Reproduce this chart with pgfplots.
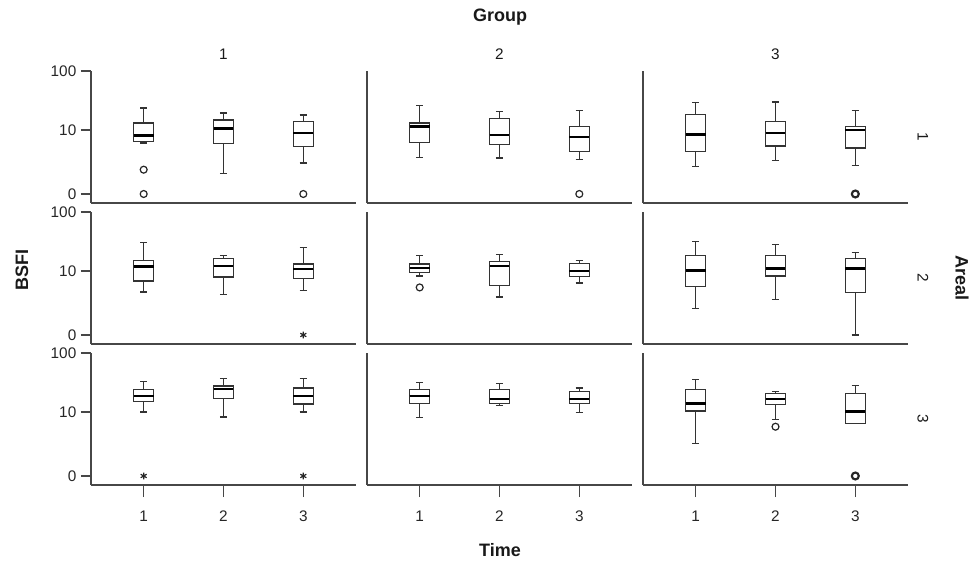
\documentclass[border=0pt]{standalone}
\usepackage{fontspec}
\setmainfont{Liberation Sans}
\usepackage{pgfplots}
\pgfplotsset{compat=1.18}
\usepgfplotslibrary{statistics}

\pgfplotsset{
  panel/.style={
    scale only axis, width=198.75pt, height=99pt,
    xmin=0.34, xmax=3.66, ymin=-0.147, ymax=2.0043,
    axis lines*=left,
    axis line style={-, line width=1.4pt, black!72},
    xtick=\empty, ytick=\empty,
    anchor=south west, clip=false,
    tick align=outside,
    tick style={line width=1.2pt, black!72},
    major tick length=7.5pt,
    ticklabel style={font=\fontsize{11.5}{13}\selectfont, text=black!85},
    /pgf/number format/assume math mode=true,
    boxplot/draw direction=y,
  },
  leftcol/.style={ytick={0,1.0414,2.0043}, yticklabels={0,10,100}},
  bottomrow/.style={xtick={1,2,3}, xticklabels={1,2,3},
    xtick style={/pgfplots/major tick length=9pt},
    xticklabel style={yshift=-8.5pt}},
  bx/.style={draw=black!80, fill=white, line width=0.95pt, solid, mark=none,
    boxplot/draw direction=y,
    boxplot/box extend=0.25, boxplot/whisker extend=0.09,
    boxplot/draw/median/.code={\draw[line width=1.8pt, black]
      (boxplot box cs:\pgfplotsboxplotvalue{median},0) --
      (boxplot box cs:\pgfplotsboxplotvalue{median},1);}},
  outl/.style={only marks, mark=o, mark size=2.6pt, black!85, mark options={line width=0.9pt}},
  outlb/.style={only marks, mark=o, mark size=2.6pt, black!85, mark options={line width=1.6pt}},
  extr/.style={only marks, mark=asterisk, mark size=2.6pt, black!85, mark options={line width=0.9pt}},
}
% box: position, lower whisker, lower quartile, median, upper quartile, upper whisker
\newcommand{\bx}[6]{\addplot[bx, boxplot prepared={draw position=#1,
  lower whisker=#2, lower quartile=#3, median=#4, upper quartile=#5, upper whisker=#6}] coordinates {};}

\begin{document}
\begin{tikzpicture}
\path[use as bounding box] (0,0) rectangle (730.5pt,-423pt);

% ---------- Row 1 (Areal 1) ----------
\begin{axis}[panel, leftcol, at={(68.25pt,-152.25pt)}]
\bx{1}{0.831}{0.852}{0.956}{1.157}{1.401}
\bx{2}{0.337}{0.826}{1.064}{1.206}{1.320}
\bx{3}{0.505}{0.777}{0.989}{1.178}{1.287}
\addplot[outl] coordinates {(1,0.396) (1,0) (3,0)};
\end{axis}
\begin{axis}[panel, at={(275.25pt,-152.25pt)}]
\bx{1}{0.598}{0.836}{1.097}{1.157}{1.439}
\bx{2}{0.587}{0.810}{0.966}{1.233}{1.347}
\bx{3}{0.565}{0.696}{0.929}{1.103}{1.358}
\addplot[outl] coordinates {(3,0)};
\end{axis}
\begin{axis}[panel, at={(482.25pt,-152.25pt)}]
\bx{1}{0.445}{0.689}{0.972}{1.299}{1.488}
\bx{2}{0.549}{0.782}{0.994}{1.184}{1.499}
\bx{3}{0.461}{0.750}{1.043}{1.103}{1.358}
\addplot[outlb] coordinates {(3,0)};
\end{axis}

% ---------- Row 2 (Areal 2) ----------
\begin{axis}[panel, leftcol, at={(68.25pt,-258pt)}]
\bx{1}{0.700}{0.880}{1.115}{1.208}{1.503}
\bx{2}{0.661}{0.946}{1.126}{1.241}{1.290}
\bx{3}{0.721}{0.918}{1.071}{1.159}{1.431}
\addplot[extr] coordinates {(3,0)};
\end{axis}
\begin{axis}[panel, at={(275.25pt,-258pt)}]
\bx{1}{0.962}{1.021}{1.093}{1.159}{1.295}
\bx{2}{0.618}{0.808}{1.120}{1.202}{1.311}
\bx{3}{0.848}{0.956}{1.038}{1.169}{1.213}
\addplot[outl] coordinates {(1,0.775)};
\end{axis}
\begin{axis}[panel, at={(482.25pt,-258pt)}]
\bx{1}{0.431}{0.792}{1.054}{1.290}{1.525}
\bx{2}{0.574}{0.962}{1.082}{1.295}{1.475}
\bx{3}{0.000}{0.693}{1.082}{1.241}{1.344}
\end{axis}

% ---------- Row 3 (Areal 3) ----------
\begin{axis}[panel, leftcol, bottomrow, at={(68.25pt,-363.75pt)}]
\bx{1}{1.042}{1.217}{1.303}{1.412}{1.542}
\bx{2}{0.961}{1.265}{1.422}{1.466}{1.585}
\bx{3}{1.042}{1.173}{1.303}{1.433}{1.591}
\addplot[extr] coordinates {(1,0) (3,0)};
\end{axis}
\begin{axis}[panel, bottomrow, at={(275.25pt,-363.75pt)}]
\bx{1}{0.950}{1.184}{1.308}{1.406}{1.526}
\bx{2}{1.145}{1.184}{1.259}{1.412}{1.503}
\bx{3}{1.031}{1.184}{1.259}{1.373}{1.433}
\end{axis}
\begin{axis}[panel, bottomrow, at={(482.25pt,-363.75pt)}]
\bx{1}{0.533}{1.059}{1.184}{1.406}{1.575}
\bx{2}{0.923}{1.168}{1.259}{1.347}{1.373}
\bx{3}{0.858}{0.858}{1.054}{1.347}{1.477}
\addplot[outl] coordinates {(2,0.803)};
\addplot[outlb] coordinates {(3,0)};
\end{axis}

% ---------- Labels ----------
\begin{scope}[every node/.style={text=black!90}]
\node[font=\fontsize{13.5}{15}\selectfont\bfseries] at (375pt,-12.75pt) {Group};
\node[font=\fontsize{11.5}{13}\selectfont] at (167.6pt,-40.5pt) {1};
\node[font=\fontsize{11.5}{13}\selectfont] at (374.6pt,-40.5pt) {2};
\node[font=\fontsize{11.5}{13}\selectfont] at (581.6pt,-40.5pt) {3};
\node[font=\fontsize{11.5}{13}\selectfont, rotate=-90] at (692.25pt,-102.75pt) {1};
\node[font=\fontsize{11.5}{13}\selectfont, rotate=-90] at (692.25pt,-208.5pt) {2};
\node[font=\fontsize{11.5}{13}\selectfont, rotate=-90] at (692.25pt,-314.25pt) {3};
\node[font=\fontsize{13.5}{15}\selectfont\bfseries, rotate=-90] at (721.5pt,-208.5pt) {Areal};
\node[font=\fontsize{13.5}{15}\selectfont\bfseries, rotate=90] at (16.5pt,-202.5pt) {BSFI};
\node[font=\fontsize{13.5}{15}\selectfont\bfseries] at (375pt,-412.5pt) {Time};
\end{scope}
\end{tikzpicture}
\end{document}
